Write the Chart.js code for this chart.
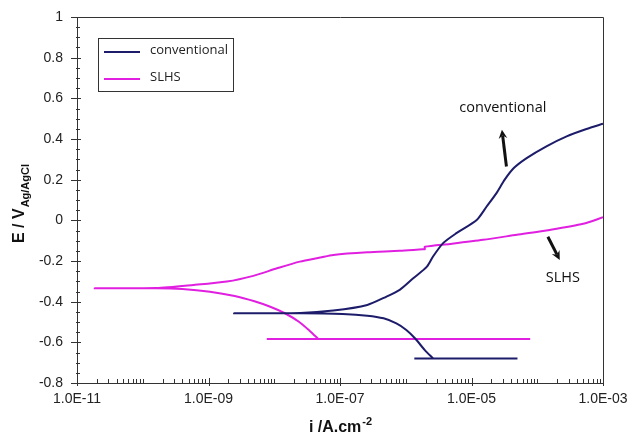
<!DOCTYPE html>
<html>
<head>
<meta charset="utf-8">
<script src="https://cdn.jsdelivr.net/npm/chart.js@4.4.1/dist/chart.umd.min.js"></script>
<style>
  html, body { margin: 0; padding: 0; background: #fff; }
  #wrap { width: 632px; height: 437px; }
</style>
</head>
<body>
<div id="wrap"><canvas id="tafel" width="632" height="437"></canvas></div>
<script>
// ── Polarization data (i in A/cm², E in V vs Ag/AgCl) ──
const convCurrent = [2.6e-6, 1.95e-6, 1.38e-6, 1.02e-6, 7.2e-7, 4.6e-7, 2.6e-7, 1.1e-7, 2.5e-8, 2.45e-9,
    2.5e-8, 7.9e-8, 2.6e-7, 5.1e-7, 8.1e-7, 1.3e-6, 2.1e-6, 2.6e-6, 3.7e-6, 5.9e-6,
    1.2e-5, 1.7e-5, 2.4e-5, 3.2e-5, 4.4e-5, 6.9e-5, 1.38e-4, 2.8e-4, 5.6e-4, 1.0e-3];
const convPotential = [-0.679, -0.638, -0.580, -0.539, -0.507, -0.482, -0.469, -0.461, -0.457, -0.457,
    -0.456, -0.444, -0.416, -0.375, -0.342, -0.285, -0.228, -0.178, -0.112, -0.063,
    0.002, 0.068, 0.134, 0.200, 0.257, 0.306, 0.364, 0.413, 0.449, 0.475];
const convBaseCurrent = [1.35e-6, 5.0e-5];
const convBasePotential = [-0.679, -0.679];

const slhsCurrent = [4.7e-8, 3.5e-8, 2.4e-8, 1.45e-8, 8.7e-9, 5.0e-9, 2.5e-9, 1.05e-9, 4.0e-10, 1.6e-10, 1.86e-11,
    1.6e-10, 5.9e-10, 1.9e-9, 4.8e-9, 1.1e-8, 2.45e-8, 5.0e-8, 7.9e-8, 2.6e-7, 8.1e-7,
    1.8e-6, 1.95e-6, 1.95e-6, 4.7e-6, 1.5e-5, 4.9e-5, 1.55e-4, 5.0e-4, 1.0e-3];
const slhsPotential = [-0.584, -0.545, -0.500, -0.457, -0.425, -0.398, -0.372, -0.351, -0.338, -0.334, -0.334,
    -0.333, -0.318, -0.301, -0.273, -0.236, -0.203, -0.183, -0.170, -0.157, -0.150,
    -0.142, -0.142, -0.130, -0.116, -0.096, -0.071, -0.047, -0.017, 0.015];
const slhsBaseCurrent = [7.7e-9, 7.8e-5];
const slhsBasePotential = [-0.584, -0.584];

const seriesNames = ['conventional', 'SLHS'];
const seriesColors = ['#1c1c6a', '#e01fe0'];

const xTickVals = [1e-11, 1e-9, 1e-7, 1e-5, 1e-3];
const xTickLabels = ['1.0E-11', '1.0E-09', '1.0E-07', '1.0E-05', '1.0E-03'];
const yTickVals = [-0.8, -0.6, -0.4, -0.2, 0, 0.2, 0.4, 0.6, 0.8, 1];
const yTickLabels = ['-0.8', '-0.6', '-0.4', '-0.2', '0', '0.2', '0.4', '0.6', '0.8', '1'];

// annotation anchors in data units
const notes = [
    { text: 'conventional', x: 3.0e-5, y: 0.554, from: [3.4e-5, 0.265], to: [2.9e-5, 0.446] },
    { text: 'SLHS', x: 2.45e-4, y: -0.283, from: [1.45e-4, -0.081], to: [2.2e-4, -0.195] }
];

const pts = (xs, ys) => xs.map((v, i) => ({ x: v, y: ys[i] }));
const line = (data, color) => ({
    data, borderColor: color, borderWidth: 2, pointRadius: 0, tension: 0.25, fill: false, showLine: true
});

const SANS = "'Liberation Sans', Arial, sans-serif";

function arrow(ctx, x1, y1, x2, y2) {
    const ang = Math.atan2(y2 - y1, x2 - x1);
    ctx.beginPath();
    ctx.moveTo(x1, y1);
    ctx.lineTo(x2 - 6 * Math.cos(ang), y2 - 6 * Math.sin(ang));
    ctx.stroke();
    ctx.beginPath();
    ctx.moveTo(x2, y2);
    ctx.lineTo(x2 - 10 * Math.cos(ang - 0.45), y2 - 10 * Math.sin(ang - 0.45));
    ctx.lineTo(x2 - 6 * Math.cos(ang), y2 - 6 * Math.sin(ang));
    ctx.lineTo(x2 - 10 * Math.cos(ang + 0.45), y2 - 10 * Math.sin(ang + 0.45));
    ctx.closePath();
    ctx.fill();
}

const decorations = {
    id: 'decorations',
    afterDraw(chart) {
        const { ctx, chartArea: a, scales: { x, y } } = chart;
        ctx.save();

        // frame top + right
        ctx.strokeStyle = '#333';
        ctx.lineWidth = 1;
        ctx.beginPath();
        ctx.moveTo(Math.round(a.left) + 0.5, Math.round(a.top) + 0.5);
        ctx.lineTo(Math.round(a.right) + 0.5, Math.round(a.top) + 0.5);
        ctx.lineTo(Math.round(a.right) + 0.5, Math.round(a.bottom) + 0.5);
        ctx.stroke();

        // x ticks (log decades)
        ctx.beginPath();
        for (let n = -11; n <= -3; n++) {
            for (let k = 1; k <= 9; k++) {
                if (n === -3 && k > 1) break;
                const v = k * Math.pow(10, n);
                const px = Math.round(x.getPixelForValue(v)) + 0.5;
                const major = k === 1 && xTickVals.some(t => Math.abs(Math.log10(t) - n) < 1e-6);
                ctx.moveTo(px, a.bottom + (major ? 3 : 0));
                ctx.lineTo(px, a.bottom - (major ? 5 : 4));
            }
        }
        // y ticks
        for (let i = 0; i <= 36; i++) {
            const v = -0.8 + i * 0.05;
            const py = Math.round(y.getPixelForValue(v)) + 0.5;
            const major = i % 4 === 0;
            ctx.moveTo(a.left - (major ? 6 : 1), py);
            ctx.lineTo(a.left + (major ? 4 : 3), py);
        }
        ctx.stroke();

        // legend box
        const lx = a.left + 21, ly = a.top + 21;
        ctx.fillStyle = '#fff';
        ctx.fillRect(lx, ly, 135, 53);
        ctx.strokeStyle = '#333';
        ctx.strokeRect(lx + 0.5, ly + 0.5, 135, 53);
        ctx.font = "13px 'Open Sans', sans-serif";
        ctx.textBaseline = 'middle';
        seriesNames.forEach((name, i) => {
            const ry = ly + 13 + i * 27;
            ctx.strokeStyle = seriesColors[i];
            ctx.lineWidth = 2;
            ctx.beginPath();
            ctx.moveTo(lx + 6, ry + 1);
            ctx.lineTo(lx + 42, ry + 1);
            ctx.stroke();
            ctx.fillStyle = '#222';
            ctx.fillText(name, lx + 52, ry - 1);
        });

        // in-plot labels and arrows
        ctx.font = "14.5px 'Open Sans', sans-serif";
        ctx.textAlign = 'center';
        ctx.fillStyle = '#111';
        ctx.strokeStyle = '#111';
        ctx.lineWidth = 3;
        notes.forEach(n => {
            ctx.fillText(n.text, x.getPixelForValue(n.x), y.getPixelForValue(n.y));
            arrow(ctx, x.getPixelForValue(n.from[0]), y.getPixelForValue(n.from[1]),
                x.getPixelForValue(n.to[0]), y.getPixelForValue(n.to[1]));
        });

        // x title: i /A.cm-2
        ctx.fillStyle = '#111';
        ctx.textAlign = 'left';
        ctx.textBaseline = 'alphabetic';
        const xMain = 'i /A.cm', xSup = '-2';
        ctx.font = 'bold 16px ' + SANS;
        const wMain = ctx.measureText(xMain).width;
        ctx.font = 'bold 11px ' + SANS;
        const wSup = ctx.measureText(xSup).width;
        const xt = (a.left + a.right) / 2 - (wMain + wSup) / 2;
        ctx.font = 'bold 16px ' + SANS;
        ctx.fillText(xMain, xt, 432);
        ctx.font = 'bold 11px ' + SANS;
        ctx.fillText(xSup, xt + wMain + 1, 425);

        // y title: E / V(Ag/AgCl)
        ctx.save();
        ctx.translate(24, (a.top + a.bottom) / 2 + 4);
        ctx.rotate(-Math.PI / 2);
        const yMain = 'E / V', ySub = 'Ag/AgCl';
        ctx.font = 'bold 16px ' + SANS;
        const wy = ctx.measureText(yMain).width;
        ctx.font = 'bold 11px ' + SANS;
        const ws = ctx.measureText(ySub).width;
        const y0 = -(wy + ws) / 2;
        ctx.font = 'bold 16px ' + SANS;
        ctx.fillText(yMain, y0, 0);
        ctx.font = 'bold 11px ' + SANS;
        ctx.fillText(ySub, y0 + wy + 1, 5);
        ctx.restore();

        ctx.restore();
    }
};

new Chart(document.getElementById('tafel'), {
    type: 'scatter',
    data: {
        datasets: [
            line(pts(convCurrent, convPotential), seriesColors[0]),
            line(pts(convBaseCurrent, convBasePotential), seriesColors[0]),
            line(pts(slhsCurrent, slhsPotential), seriesColors[1]),
            line(pts(slhsBaseCurrent, slhsBasePotential), seriesColors[1])
        ]
    },
    options: {
        responsive: false,
        animation: false,
        layout: { padding: { top: 17, right: 29, left: 0, bottom: 0 } },
        plugins: { legend: { display: false }, tooltip: { enabled: false } },
        scales: {
            x: {
                type: 'logarithmic',
                min: 1e-11,
                max: 1e-3,
                // ticks drawn by the plugin; tickLength only offsets the labels
                grid: { display: false, drawTicks: true, tickLength: 8 },
                border: { display: true, color: '#333', width: 1 },
                afterBuildTicks: s => { s.ticks = xTickVals.map(v => ({ value: v })); },
                afterFit: s => { s.height = 54; },
                ticks: {
                    autoSkip: false,
                    maxRotation: 0,
                    padding: 0,
                    color: '#222',
                    font: { family: SANS, size: 14 },
                    callback: v => xTickLabels[xTickVals.findIndex(t => Math.abs(t - v) / t < 1e-6)] || ''
                }
            },
            y: {
                min: -0.8,
                max: 1,
                grid: { display: false, drawTicks: true, tickLength: 14 },
                border: { display: true, color: '#333', width: 1 },
                afterBuildTicks: s => { s.ticks = yTickVals.map(v => ({ value: v })); },
                afterFit: s => { s.width = 77; },
                ticks: {
                    padding: 0,
                    color: '#222',
                    font: { family: SANS, size: 14 },
                    callback: v => yTickLabels[yTickVals.findIndex(t => Math.abs(t - v) < 1e-6)] || ''
                }
            }
        }
    },
    plugins: [decorations]
});
</script>
</body>
</html>
